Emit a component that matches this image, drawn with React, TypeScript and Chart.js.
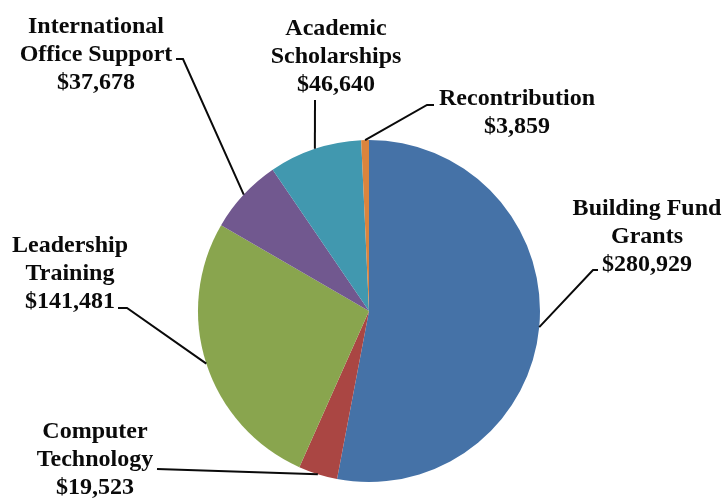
import React, { useEffect, useRef } from "react";
import { Chart, registerables } from "chart.js";

Chart.register(...registerables);

// ---- data ----
const categories = [
  "Building Fund Grants",
  "Computer Technology",
  "Leadership Training",
  "International Office Support",
  "Academic Scholarships",
  "Recontribution",
];
const values = [280929, 19523, 141481, 37678, 46640, 3859];
const labelLines = [
  ["Building Fund", "Grants"],
  ["Computer", "Technology"],
  ["Leadership", "Training"],
  ["International", "Office Support"],
  ["Academic", "Scholarships"],
  ["Recontribution"],
];
const colors = ["#4572A7", "#AA4643", "#89A54E", "#71588F", "#4198AF", "#DB843D"];

// ---- label layout (positions of the annotation text and leader-line elbows) ----
const labelCenterX = [647, 95, 70, 96, 336, 517];
const labelFirstBaseline = [215, 438, 252, 33, 35, 105];
const leaderStarts: number[][][] = [
  [[598, 270], [593, 270]],
  [[157, 469]],
  [[118, 308], [127, 308]],
  [[176, 59], [183, 59]],
  [[315, 100]],
  [[434, 105], [427, 105]],
];
const LINE_HEIGHT = 28;
const FONT = "bold 24px 'Liberation Serif', 'Times New Roman', serif";

const labelPlugin = {
  id: "pieLabels",
  afterDraw(chart: any) {
    const ctx = chart.ctx;
    const meta = chart.getDatasetMeta(0);
    ctx.save();
    ctx.font = FONT;
    ctx.fillStyle = "#0a0a0a";
    ctx.textAlign = "center";
    ctx.textBaseline = "alphabetic";
    meta.data.forEach((arc: any, i: number) => {
      const p = arc.getProps(["x", "y", "startAngle", "endAngle", "outerRadius"], true);
      const mid = (p.startAngle + p.endAngle) / 2;
      const ex = p.x + p.outerRadius * Math.cos(mid);
      const ey = p.y + p.outerRadius * Math.sin(mid);
      // leader line
      ctx.beginPath();
      ctx.strokeStyle = "#0a0a0a";
      ctx.lineWidth = 2;
      const pts = leaderStarts[i];
      ctx.moveTo(pts[0][0], pts[0][1]);
      for (let k = 1; k < pts.length; k++) ctx.lineTo(pts[k][0], pts[k][1]);
      ctx.lineTo(ex, ey);
      ctx.stroke();
      // text
      const lines = [...labelLines[i], "$" + values[i].toLocaleString("en-US")];
      lines.forEach((t, j) => {
        ctx.fillText(t, labelCenterX[i], labelFirstBaseline[i] + j * LINE_HEIGHT);
      });
    });
    ctx.restore();
  },
};

export default function App() {
  const ref = useRef<HTMLCanvasElement | null>(null);
  useEffect(() => {
    if (!ref.current) return;
    const chart = new Chart(ref.current, {
      type: "pie",
      data: {
        labels: categories,
        datasets: [
          {
            data: values,
            backgroundColor: colors,
            borderWidth: 0,
          },
        ],
      },
      options: {
        responsive: false,
        animation: false,
        layout: { padding: { left: 198, right: 186, top: 140, bottom: 16 } },
        plugins: {
          legend: { display: false },
          tooltip: { enabled: false },
        },
      },
      plugins: [labelPlugin],
    });
    return () => chart.destroy();
  }, []);
  return (
    <div
      style={{
        position: "fixed",
        left: 0,
        top: 0,
        width: 726,
        height: 498,
        background: "#ffffff",
      }}
    >
      <canvas ref={ref} width={726} height={498} style={{ width: 726, height: 498 }} />
    </div>
  );
}
